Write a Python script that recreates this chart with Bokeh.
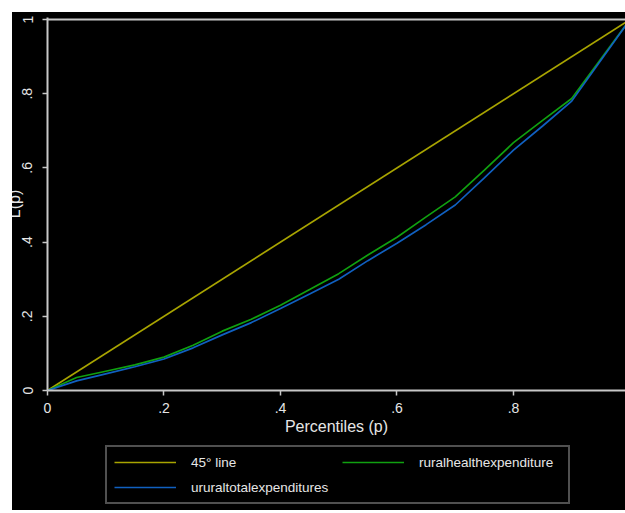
from bokeh.plotting import figure
from bokeh.layouts import column
from bokeh.models import Range1d, FixedTicker, Legend, LegendItem, Span
from bokeh.embed import file_html
from bokeh.resources import INLINE

# ---- data ----
p_vals = [0, 0.05, 0.1, 0.15, 0.2, 0.25, 0.3, 0.35, 0.4, 0.45, 0.5,
          0.55, 0.6, 0.65, 0.7, 0.75, 0.8, 0.85, 0.9, 1.0]
health = [0, 0.035, 0.052, 0.069, 0.090, 0.122, 0.160, 0.192, 0.230, 0.272, 0.315,
          0.365, 0.413, 0.468, 0.522, 0.594, 0.668, 0.728, 0.787, 1.0]
total = [0, 0.026, 0.045, 0.064, 0.085, 0.115, 0.150, 0.183, 0.221, 0.260, 0.300,
         0.350, 0.397, 0.447, 0.500, 0.573, 0.648, 0.713, 0.780, 1.0]
diag_p = [0, 1]
diag_l = [0, 1]
x_ticks = [0, 0.2, 0.4, 0.6, 0.8]
x_tick_labels = ["0", ".2", ".4", ".6", ".8"]
y_ticks = [0, 0.2, 0.4, 0.6, 0.8, 1]
y_tick_labels = ["0", ".2", ".4", ".6", ".8", "1"]
names = ["45\u00b0 line", "ruralhealthexpenditure", "ururaltotalexpenditures"]
colors = ["#a8a400", "#10a010", "#1060c0"]

TXT = "#e6e6e6"
AX = "#c8c8c8"
FONT = "Liberation Sans"

# ---------------- main chart ----------------
p = figure(width=625, height=428, frame_width=578, frame_height=373,
           output_backend="svg", toolbar_location=None,
           x_range=Range1d(0, 0.9923), y_range=Range1d(0, 1.0054),
           min_border_left=47, min_border_top=5, min_border_right=0,
           min_border_bottom=0,
           background_fill_color="black", border_fill_color="black")
p.outline_line_color = None
p.grid.visible = False

p.line(diag_p, diag_l, line_color=colors[0], line_width=1.7)
p.line(p_vals, health, line_color=colors[1], line_width=1.7)
p.line(p_vals, total, line_color=colors[2], line_width=1.7)

p.add_layout(Span(location=1, dimension="width", line_color=AX, line_width=2))

for ax in (p.xaxis[0], p.yaxis[0]):
    ax.axis_line_color = AX
    ax.axis_line_width = 2
    ax.major_tick_line_color = AX
    ax.major_tick_line_width = 1.5
    ax.major_tick_out = 5
    ax.major_tick_in = 0
    ax.minor_tick_line_color = None
    ax.major_label_text_color = TXT
    ax.major_label_text_font = FONT
    ax.major_label_text_font_size = "14px"
    ax.axis_label_text_color = TXT
    ax.axis_label_text_font = FONT
    ax.axis_label_text_font_size = "16px"
    ax.axis_label_text_font_style = "normal"

p.xaxis.ticker = FixedTicker(ticks=x_ticks)
p.xaxis.major_label_overrides = dict(zip(x_ticks, x_tick_labels))
p.xaxis.major_label_standoff = 7
p.xaxis.axis_label = "Percentiles (p)"
p.xaxis.axis_label_standoff = 2

p.yaxis.ticker = FixedTicker(ticks=y_ticks)
p.yaxis.major_label_overrides = dict(zip(y_ticks, y_tick_labels))
p.yaxis.major_label_orientation = "vertical"
p.yaxis.major_label_standoff = 10
p.yaxis.axis_label = "L(p)"
p.yaxis.axis_label_standoff = -3

# ---------------- legend strip ----------------
pl = figure(width=625, height=73, output_backend="svg", toolbar_location=None,
            x_range=Range1d(10, 11), y_range=Range1d(10, 11),
            x_axis_location=None, y_axis_location=None,
            min_border_left=47, min_border_right=0, min_border_top=0,
            min_border_bottom=0,
            background_fill_color="black", border_fill_color="black")
pl.outline_line_color = None
pl.xgrid.grid_line_color = None
pl.ygrid.grid_line_color = None
l_diag = pl.line(diag_p, diag_l, line_color=colors[0], line_width=1.7)
l_health = pl.line(p_vals, health, line_color=colors[1], line_width=1.7)
l_total = pl.line(p_vals, total, line_color=colors[2], line_width=1.7)

legend = Legend(items=[LegendItem(label=names[0], renderers=[l_diag]),
                       LegendItem(label=names[1], renderers=[l_health]),
                       LegendItem(label=names[2], renderers=[l_total])],
                orientation="horizontal", ncols=2,
                location=(58, 6), margin=0, padding=7, spacing=9,
                glyph_width=62, glyph_height=16, label_height=16,
                label_width=142, label_standoff=15,
                border_line_color="#a0a0a0", border_line_width=2,
                background_fill_color="black", background_fill_alpha=1,
                label_text_color=TXT, label_text_font=FONT,
                label_text_font_size="13.5px")
pl.add_layout(legend, "center")
pl.styles = {"background-color": "black"}
p.styles = {"background-color": "black"}

layout = column(p, pl, spacing=0)
layout.margin = (12, 0, 0, 0)
layout.styles = {"clip-path": "inset(0px 0px 0px 12px)",
                 "background-color": "black"}

open("out.html", "w").write(file_html(layout, INLINE))
